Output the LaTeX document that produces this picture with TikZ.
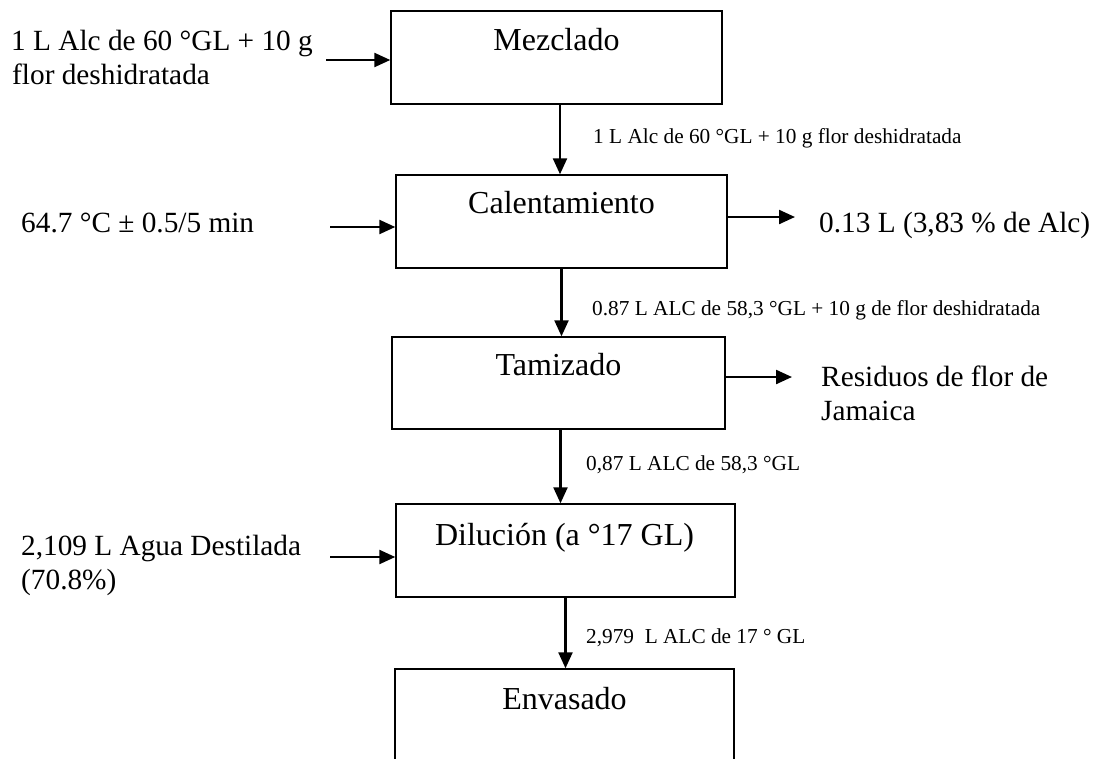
\documentclass[tikz,border=0pt]{standalone}
\usepackage{fontspec}
\setmainfont{Liberation Serif}
\usetikzlibrary{arrows.meta}
\begin{document}
\begin{tikzpicture}[x=1pt,y=-1pt,
  box/.style={draw, line width=1.4pt, minimum height=93pt, inner sep=0pt},
  boxtext/.style={anchor=base, inner sep=0pt, font=\fontsize{32}{38}\selectfont},
  side/.style={anchor=base west, inner sep=0pt, font=\fontsize{29.3}{35}\selectfont},
  small/.style={anchor=base west, inner sep=0pt, font=\fontsize{21.3}{25}\selectfont},
  arr/.style={line width=2.3pt, -{Triangle[length=16pt,width=14pt]}}]
\clip (0,0) rectangle (1098,758);
\fill[white] (0,0) rectangle (1098,758);
% boxes
\node[box, minimum width=331pt] (mez) at (556.5,57.5) {};
\node[box, minimum width=331pt] (cal) at (561.5,221.5) {};
\node[box, minimum width=333pt, minimum height=92pt] (tam) at (558.5,383) {};
\node[box, minimum width=339pt] (dil) at (565.5,550.5) {};
\node[box, minimum width=339pt] (env) at (564.5,715.5) {};
% box texts
\node[boxtext] (tmez) at (556.5,50) {Mezclado};
\node[boxtext] (tcal) at (561.5,213) {Calentamiento};
\node[boxtext] (ttam) at (558.5,375) {Tamizado};
\node[boxtext] (tdil) at (564.5,545) {Dilución (a °17 GL)};
\node[boxtext] (tenv) at (564.5,709) {Envasado};
% vertical arrows
\draw[arr] ([xshift=3.5pt]mez.south) -- ([xshift=3.5pt]mez.south |- cal.north);
\draw[arr] (cal.south) -- (cal.south |- tam.north);
\draw[arr] ([xshift=2pt]tam.south) -- ([xshift=2pt]tam.south |- dil.north);
\draw[arr] (dil.south) -- (dil.south |- env.north);
% flow labels
\node[small] (l1) at (593,143) {1 L Alc de 60 °GL + 10 g flor deshidratada};
\node[small] (l2) at (592,315) {0.87 L ALC de 58,3 °GL + 10 g de flor deshidratada};
\node[small] (l3) at (586,470) {0,87 L ALC de 58,3 °GL};
\node[small] (l4) at (586,643) {2,979\ \ L ALC de 17 ° GL};
% inputs
\coordinate (in1) at (326,60);
\coordinate (in2) at (330,227);
\coordinate (in3) at (330,557);
\draw[arr] (in1) -- (in1 -| mez.west);
\draw[arr] (in2) -- (in2 -| cal.west);
\draw[arr] (in3) -- (in3 -| dil.west);
\node[side] (s1a) at (11,50) {1 L Alc de 60 °GL + 10 g};
\node[side] (s1b) at (12,84) {flor deshidratada};
\node[side] (s2) at (21,232) {64.7 °C ± 0.5/5 min};
\node[side] (s3a) at (21,555) {2,109 L Agua Destilada};
\node[side] (s3b) at (21,589) {(70.8\%)};
% outputs
\coordinate (out1) at (795,217);
\coordinate (out2) at (792,377);
\draw[arr] (out1 -| cal.east) -- (out1);
\draw[arr] (out2 -| tam.east) -- (out2);
\node[side] (o1) at (819,232) {0.13 L (3,83 \% de Alc)};
\node[side] (o2a) at (821,386) {Residuos de flor de};
\node[side] (o2b) at (821,420) {Jamaica};
\end{tikzpicture}
\end{document}
